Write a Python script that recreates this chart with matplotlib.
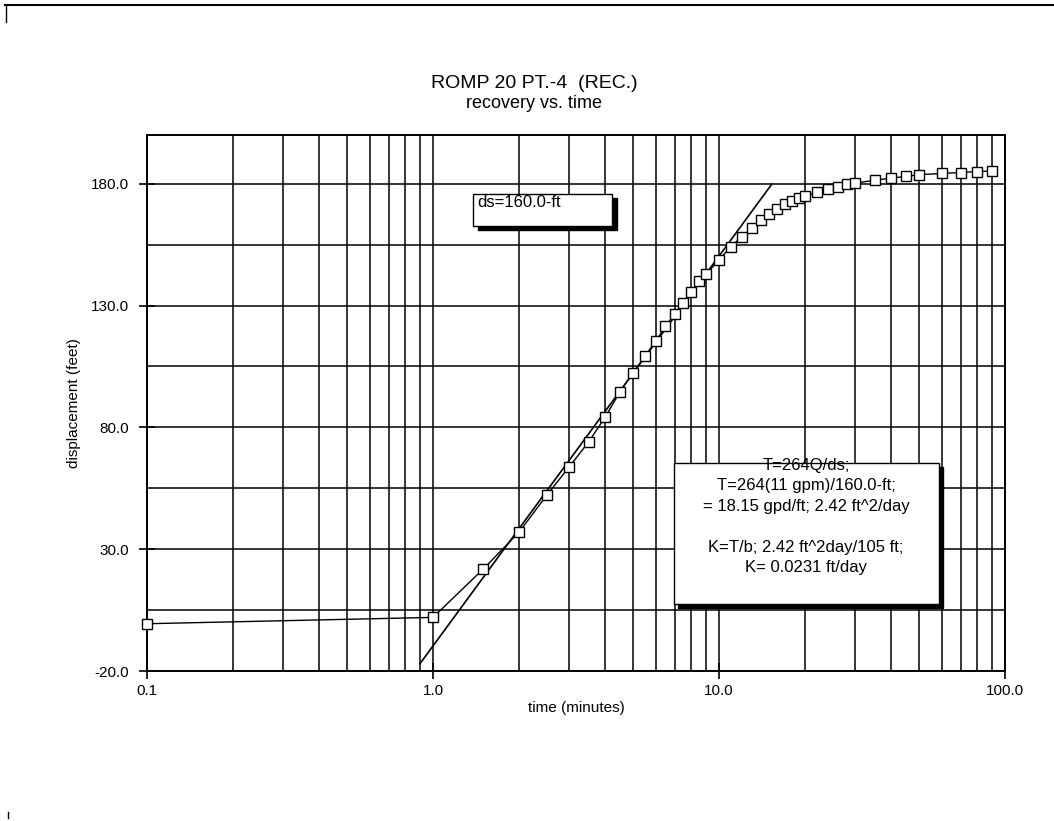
import numpy as np
import matplotlib.pyplot as plt
from matplotlib.patches import Rectangle
from matplotlib.ticker import FixedLocator, LogLocator, NullFormatter
from matplotlib.lines import Line2D

plt.rcParams['font.family'] = ['Liberation Sans', 'DejaVu Sans']

# recovery data (time in minutes, displacement in feet)
time_min = [0.1, 1.0, 1.5, 2.0, 2.5, 3.0, 3.5, 4.0, 4.5, 5.0, 5.5, 6.0, 6.5, 7.0,
            7.5, 8.0, 8.5, 9.0, 10.0, 11.0, 12.0, 13.0, 14.0, 15.0, 16.0, 17.0,
            18.0, 19.0, 20.0, 22.0, 24.0, 26.0, 28.0, 30.0, 35.0, 40.0, 45.0,
            50.0, 60.0, 70.0, 80.0, 90.0]
displacement = [-0.6, 2.0, 21.9, 37.0, 52.2, 63.9, 74.0, 84.2, 94.5, 102.3, 109.1,
                115.3, 121.5, 126.6, 131.1, 135.5, 140.0, 142.8, 148.7, 154.2,
                158.2, 161.7, 165.0, 167.4, 169.5, 171.6, 172.9, 174.0, 175.0,
                176.4, 177.7, 178.8, 179.7, 180.3, 181.4, 182.3, 183.0, 183.7,
                184.2, 184.6, 185.0, 185.2]

# straight-line fit: ds feet per log cycle, crossing zero at t0
ds = 160.0
t0 = 1.15
fit_span = [0.9, 15.3]

xticks = [0.1, 1.0, 10.0, 100.0]
xtick_labels = ['0.1', '1.0', '10.0', '100.0']
yticks = [-20, 30, 80, 130, 180]
ytick_labels = ['-20.0', '30.0', '80.0', '130.0', '180.0']
yminor = [5, 55, 105, 155]

ds_text = 'ds=160.0-ft'
calc_text = ('T=264Q/ds;\nT=264(11 gpm)/160.0-ft;\n= 18.15 gpd/ft; 2.42 ft^2/day\n\n'
             'K=T/b; 2.42 ft^2day/105 ft;\nK= 0.0231 ft/day')

W, H = 1054, 821
fig = plt.figure(figsize=(W / 100, H / 100), dpi=100)
ax_l, ax_r, ax_t, ax_b = 147, 1005, 135, 671
ax = fig.add_axes([ax_l / W, 1 - ax_b / H, (ax_r - ax_l) / W, (ax_b - ax_t) / H])

ax.set_xscale('log')
ax.set_xlim(0.1, 100)
ax.set_ylim(-20, 200)

ax.xaxis.set_major_locator(FixedLocator(xticks))
ax.set_xticklabels(xtick_labels)
ax.xaxis.set_minor_locator(LogLocator(base=10, subs=np.arange(2, 10)))
ax.xaxis.set_minor_formatter(NullFormatter())
ax.yaxis.set_major_locator(FixedLocator(yticks))
ax.set_yticklabels(ytick_labels)
ax.yaxis.set_minor_locator(FixedLocator(yminor))

ax.grid(which='both', color='black', linewidth=1.1)
ax.tick_params(which='major', direction='inout', length=11, width=1.2,
               labelsize=11, pad=4, colors='black')
ax.tick_params(axis='y', which='major', pad=7.5)
ax.tick_params(which='minor', length=0)
for sp in ax.spines.values():
    sp.set_linewidth(1.4)

# measured recovery
ax.plot(time_min, displacement, color='black', lw=1.0, marker='s', ms=6.5,
        mfc='white', mec='black', mew=1.0, zorder=4, clip_on=False)

# semi-log straight line
t_fit = np.array(fit_span)
ax.plot(t_fit, ds * np.log10(t_fit / t0), color='black', lw=1.2, zorder=3)

ax.set_xlabel('time (minutes)', fontsize=11)
ax.xaxis.set_label_coords(0.5, -0.056)
ax.set_ylabel('displacement (feet)', fontsize=11)
ax.yaxis.set_label_coords(-0.077, 0.5)

fig.text(534 / W, 1 - 84 / H, 'ROMP 20 PT.-4  (REC.)', ha='center', va='center', fontsize=14)
fig.text(534 / W, 1 - 103 / H, 'recovery vs. time', ha='center', va='center', fontsize=13)


def axfrac(px, py):
    return (px - ax_l) / (ax_r - ax_l), (ax_b - py) / (ax_b - ax_t)


def shadow_box(x0, y0, x1, y1, off):
    # drop shadow first, then the white box on top
    sx, sy = axfrac(x0 + off[0], y1 + off[1])
    ex, ey = axfrac(x1 + off[0], y0 + off[1])
    ax.add_patch(Rectangle((sx, sy), ex - sx, ey - sy, transform=ax.transAxes,
                           facecolor='black', edgecolor='black', zorder=6, clip_on=False))
    bx, by = axfrac(x0, y1)
    tx, ty = axfrac(x1, y0)
    ax.add_patch(Rectangle((bx, by), tx - bx, ty - by, transform=ax.transAxes,
                           facecolor='white', edgecolor='black', lw=1.0, zorder=7, clip_on=False))


shadow_box(473, 194, 612, 226, (5, 4))
tx, ty = axfrac(477, 195)
ax.text(tx, ty, ds_text, transform=ax.transAxes, ha='left', va='top',
        fontsize=12, zorder=8)

shadow_box(674, 463, 939, 604, (4, 4))
tx, ty = axfrac(806, 458)
ax.text(tx, ty, calc_text, transform=ax.transAxes, ha='center', va='top',
        fontsize=12, linespacing=1.45, zorder=8)

# page edge marks
fig.add_artist(Line2D([5 / W, 1.0], [1 - 5 / H, 1 - 5 / H], color='black', lw=1.5))
fig.add_artist(Line2D([6 / W, 6 / W], [1 - 5 / H, 1 - 22 / H], color='black', lw=1.0))
fig.add_artist(Line2D([8 / W, 8 / W], [1 - 812 / H, 1 - 818 / H], color='black', lw=1.0))

fig.savefig('out.png', dpi=100)
